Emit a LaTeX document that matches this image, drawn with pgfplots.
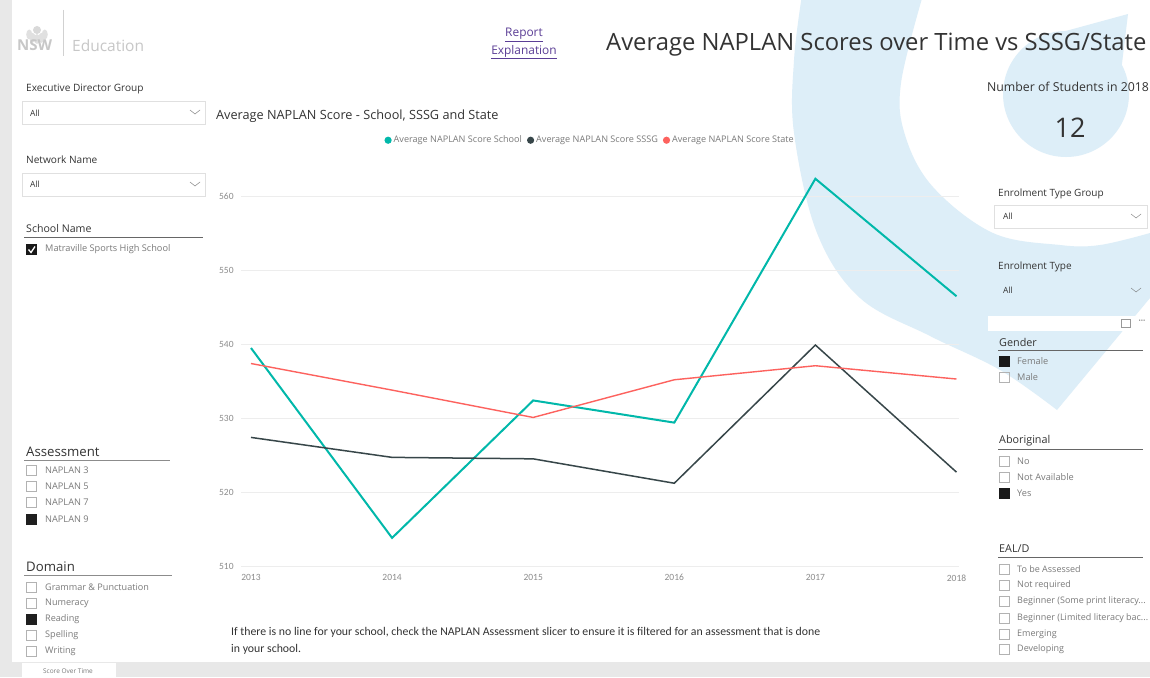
\documentclass[border=0pt]{standalone}
\usepackage{fontspec}
\setmainfont{Open Sans}
\newfontfamily\cond{Carlito}
\usepackage{pgfplots}
\pgfplotsset{compat=1.18}
\definecolor{cTeal}{HTML}{01B8AA}
\definecolor{cDark}{HTML}{374649}
\definecolor{cRed}{HTML}{FD625E}
\definecolor{swoosh}{HTML}{DDEEF8}
\definecolor{txt}{HTML}{333333}
\definecolor{lite}{HTML}{7A7A7A}
\definecolor{link}{HTML}{5B3E96}
\definecolor{strip}{HTML}{E8E8E8}
\newcommand\fs[1]{\fontsize{#1}{#1}\selectfont}
\begin{document}
\begin{tikzpicture}
\useasboundingbox (0,0) rectangle (1150pt,-677pt);
\begin{scope}[x=1pt,y=-1pt,
  lbl/.style={anchor=west,inner sep=0pt,text=txt,font=\fs{10.1}},
  hdr/.style={anchor=west,inner sep=0pt,text=txt,font=\fs{11}},
  itm/.style={anchor=west,inner sep=0pt,text=lite,font=\fs{9.2}}]
\clip (0,0) rectangle (1150,677);
\fill[white] (0,0) rectangle (1150,677);
% decorative background shapes
\fill[swoosh] plot[smooth, tension=0.6] coordinates {(802,-5) (794,60) (794,133) (817,233) (860,298) (930,336) (1000,370) (1057,410)}
  -- (1150,298) -- (1150,233)
  -- plot[smooth, tension=0.6] coordinates {(1150,233) (1100,245) (1060,245) (993,233) (933,187) (905,135) (901,83) (923,-5)} -- cycle;
\fill[swoosh] (1066,94) circle (63);
\fill[swoosh] (1128,14) -- (1040,38) -- (1120,80) -- cycle;
% side strips
\fill[strip] (0,0) rectangle (12,662);
\fill[strip] (0,662) rectangle (1150,677);
\fill[white] (22,663) rectangle (116,677);
\node[inner sep=0pt,text=lite,font=\fs{6.5}] at (68,671) {Score Over Time};
% logo
\foreach \a in {-60,-30,0,30,60}{\fill[black!12] (37,30) ++(90+\a:9) ellipse (3 and 5);}
\fill[black!15] (37,30) circle (4);
\node[anchor=west,inner sep=0pt,text=black!22,font=\bfseries\fs{15}] at (17,45) {NSW};
\draw[black!18] (63,10) -- (63,56);
\node[anchor=west,inner sep=0pt,text=black!22,font=\fs{15.5}] at (72,46) {Education};
% left slicers
\node[lbl] at (26,89) {Executive Director Group};
\draw[black!12,fill=white] (22,101) rectangle (205,124);
\node[itm,text=txt,font=\fs{8.5}] at (30,113) {All};
\draw[black!55] (190,110) -- (195,114) -- (200,110);
\node[lbl] at (26,160) {Network Name};
\draw[black!12,fill=white] (22,173) rectangle (205,196);
\node[itm,text=txt,font=\fs{8.5}] at (30,184) {All};
\draw[black!55] (190,182) -- (195,186) -- (200,182);
\node[lbl,font=\fs{10.6}] at (26,229) {School Name};
\draw[black!60] (24,237.5) -- (203,237.5);
\fill[black!90] (26,244) rectangle (37,255);
\draw[white,line width=1.3pt] (28.5,249.5) -- (31,252.5) -- (35,246.5);
\node[itm] at (45,249) {Matraville Sports High School};
\node[hdr,font=\fs{13.2}] at (26,452) {Assessment};
\draw[black!45] (24,460) -- (170,460);
\foreach \yy/\lab in {470/NAPLAN 3,486/NAPLAN 5,502/NAPLAN 7}{
  \draw[black!30] (26.5,\yy-5) rectangle ++(10,10);
  \node[itm] at (45,\yy) {\lab};}
\fill[black!88] (26,519-5.5) rectangle ++(11,11);
\node[itm] at (45,519) {NAPLAN 9};
\node[hdr,font=\fs{13.2}] at (26,567) {Domain};
\draw[black!45] (24,575) -- (172,575);
\foreach \yy/\lab in {587/Grammar \& Punctuation,603/Numeracy,635/Spelling,651/Writing}{
  \draw[black!30] (26.5,\yy-5) rectangle ++(10,10);
  \node[itm,font=\fs{9.1}] at (45,\yy) {\lab};}
\fill[black!88] (26,619-5.5) rectangle ++(11,11);
\node[itm,font=\fs{9.1}] at (45,619) {Reading};
% top
\node[inner sep=0pt,text=link,font=\fs{11.9}] at (524,35) {\underline{Report}};
\node[inner sep=0pt,text=link,font=\fs{11.9}] at (524,52) {\underline{Explanation}};
\node[anchor=west,inner sep=0pt,text=txt,font=\fs{23.8}] at (606,45) {Average NAPLAN Scores over Time vs SSSG/State};
\node[anchor=west,inner sep=0pt,text=txt,font=\fs{12.7}] at (216,116) {Average NAPLAN Score - School, SSSG and State};
% right panel
\node[inner sep=0pt,text=txt,font=\fs{12.3}] at (1068,87) {Number of Students in 2018};
\node[inner sep=0pt,text=txt,font=\fs{27}] at (1070,128) {12};
\node[lbl,font=\fs{10}] at (998,194) {Enrolment Type Group};
\draw[black!12,fill=white] (994,205) rectangle (1147,228);
\node[itm,text=txt,font=\fs{8.5}] at (1003,216) {All};
\draw[black!55] (1131,214) -- (1136,218) -- (1141,214);
\node[lbl,font=\fs{10}] at (998,267) {Enrolment Type};
\node[itm,text=txt,font=\fs{8.5}] at (1003,290) {All};
\draw[black!55] (1131,288) -- (1136,292) -- (1141,288);
\fill[white] (988,316) rectangle (1150,331);
\draw[black!40] (1121,319) rectangle (1130,327);
\node[inner sep=0pt,text=black!50,font=\fs{8}] at (1142,322) {\textbf{\textperiodcentered\textperiodcentered\textperiodcentered}};
\node[hdr,font=\fs{10.8}] at (999,342) {Gender};
\draw[black!60] (998,350) -- (1143,350);
\fill[black!90] (999,361-5.5) rectangle ++(11,11);
\node[itm] at (1017,361) {Female};
\draw[black!30] (999.5,377-5) rectangle ++(10,10);
\node[itm] at (1017,377) {Male};
\node[hdr,font=\fs{10.8}] at (999,441) {Aboriginal};
\draw[black!60] (998,449) -- (1143,449);
\foreach \yy/\lab in {461/No,477/Not Available}{
  \draw[black!30] (999.5,\yy-5) rectangle ++(10,10);
  \node[itm] at (1017,\yy) {\lab};}
\fill[black!90] (999,493-5.5) rectangle ++(11,11);
\node[itm] at (1017,493) {Yes};
\node[hdr,font=\fs{10.8}] at (999,549) {EAL/D};
\draw[black!60] (998,557) -- (1143,557);
\foreach \yy/\lab in {569/To be Assessed,585/Not required,601/{Beginner (Some print literacy.\kern0pt..},618/{Beginner (Limited literacy bac.\kern0pt..},634/Emerging,649/Developing}{
  \draw[black!30] (999.5,\yy-5) rectangle ++(10,10);
  \node[itm,font=\fs{9.0}] at (1017,\yy) {\lab};}
% note
\node[anchor=west,inner sep=0pt,text=txt,font=\cond\fs{11.8}] at (231,632) {If there is no line for your school, check the NAPLAN Assessment slicer to ensure it is filtered for an assessment that is done};
\node[anchor=west,inner sep=0pt,text=txt,font=\cond\fs{11.8}] at (231,649) {in your school.};
\end{scope}
\begin{axis}[
  at={(241.1pt,-566pt)}, anchor=south west, scale only axis,
  width=718.2pt, height=391.7pt,
  xmin=2012.93, xmax=2018.02, ymin=510, ymax=563,
  axis line style={draw=none}, major tick length=0pt,
  xtick={2013,2014,2015,2016,2017,2018}, ytick={510,520,530,540,550,560},
  ymajorgrids, grid style={color=black!7, line width=0.8pt},
  /pgf/number format/1000 sep={}, /pgf/number format/assume math mode=true,
  tick label style={font=\cond\fs{9.5}, text=black!45},
  yticklabel style={anchor=east, xshift=-4pt},
  xticklabel style={anchor=north, yshift=-5pt},
  clip=false,
  legend style={at={(0.486,1.087)}, anchor=center, draw=none, fill=none,
    font=\fs{9.1}, text=lite, inner sep=0pt,
    /tikz/every even column/.append style={column sep=3pt}},
  legend columns=3,
  legend image code/.code={\fill[#1,draw=none] (0pt,0pt) circle (3.6pt);},
]
\addplot[cTeal, line width=2pt] coordinates {(2013,539.5) (2014,513.8) (2015,532.4) (2016,529.4) (2017,562.4) (2018,546.5)};
\addlegendentry{Average NAPLAN Score School}
\addplot[cDark, line width=1.5pt] coordinates {(2013,527.4) (2014,524.7) (2015,524.5) (2016,521.2) (2017,539.9) (2018,522.7)};
\addlegendentry{Average NAPLAN Score SSSG}
\addplot[cRed, line width=1.4pt] coordinates {(2013,537.4) (2014,533.8) (2015,530.1) (2016,535.2) (2017,537.1) (2018,535.3)};
\addlegendentry{Average NAPLAN Score State}
\end{axis}
\end{tikzpicture}
\end{document}
